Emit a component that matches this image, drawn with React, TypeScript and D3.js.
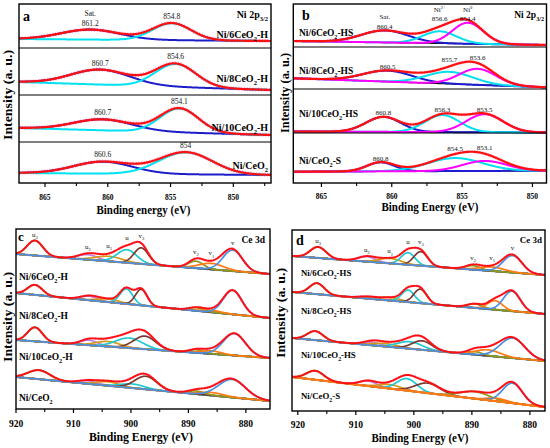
import * as React from 'react';
import * as d3 from 'd3';

const FONT = '"Liberation Serif", "DejaVu Serif", serif';

// ---------- panel a : Ni 2p3/2 (H series) ----------
const niA_names = ['Ni/6CeO_2-H', 'Ni/8CeO_2-H', 'Ni/10CeO_2-H', 'Ni/CeO_2'];
const niA_base = [[144, 142], [101, 93], [55, 48], [10, 8]];
// [centre eV, height, fwhm eV]
const niA_sat = [[861.4, 10, 5.5], [860.6, 15, 5.5], [860.4, 11, 5.5], [860.4, 12, 5.5]];
const niA_main = [[854.9, 17, 3.6], [854.6, 23, 3.8], [854.3, 24, 3.6], [853.8, 22, 5.0]];
const niA_satText = ['861.2', '860.7', '860.7', '860.6'];
const niA_mainText = ['854.8', '854.6', '854.1', '854'];

// ---------- panel b : Ni 2p3/2 (HS series) ----------
const niB_names = ['Ni/6CeO_2-HS', 'Ni/8CeO_2-HS', 'Ni/10CeO_2-HS', 'Ni/CeO_2-S'];
const niB_base = [[142, 138], [104.7, 95.7], [51.5, 50.5], [11.3, 12.3]];
const niB_sat = [[860.5, 12, 3.9], [860.3, 11, 4.1], [860.6, 15, 2.9], [860.8, 9, 2.3]];
const niB_ni2 = [[856.6, 12, 2.8], [855.9, 12, 3.9], [856.4, 17, 2.9], [855.5, 13, 4.6]];
const niB_ni0 = [[854.6, 21, 2.6], [853.9, 16, 3.1], [853.4, 18, 3.1], [853.4, 10, 3.7]];
const niB_satText = ['860.4', '860.5', '860.8', '860.8'];
const niB_ni2Text = ['856.6', '855.7', '856.3', '854.5'];
const niB_ni0Text = ['854.4', '853.6', '853.5', '853.1'];

// ---------- panels c, d : Ce 3d ----------
const ceLabels = ['u_3', 'u_2', 'u_1', 'u', 'v_3', 'v_2', 'v_1', 'v'];
const ceColors = ['#3a9e3a', '#c17fe6', '#d39a1c', '#1fc9d2', '#7a3a33', '#8c9b1e', '#ff7a12', '#4b8fe0'];

const ceC_names = ['Ni/6CeO_2-H', 'Ni/8CeO_2-H', 'Ni/10CeO_2-H', 'Ni/CeO_2'];
const ceC_base = [[155, 135], [116, 91], [69, 51], [32, 8]];
const ceC_6H = [[916.7, 15, 3.2], [907.5, 5, 4], [903.8, 5, 5.5], [900.7, 13, 4.0], [898.2, 16, 3.0], [888.7, 7, 3], [886.0, 6, 5], [882.3, 21, 4]];
const ceC_8H = [[916.7, 10, 3], [907.3, 4, 3.5], [904.0, 3, 4.5], [900.8, 15, 2.6], [898.2, 16, 2.4], [888.6, 3, 3], [886.0, 2, 4], [882.3, 24, 3.8]];
const ceC_10H = [[916.7, 14, 3.0], [907.3, 5, 3.5], [904.0, 5, 5], [900.3, 10, 5.5], [897.6, 13, 4.5], [888.6, 3, 3], [886.0, 3, 4], [882.0, 22, 4.5]];
const ceC_0 = [[916.0, 9, 4.5], [907.5, 3, 4], [904.0, 4, 4.5], [899.7, 4, 5], [897.4, 13, 4.5], [888.6, 3, 3.5], [886.0, 3, 5], [882.4, 18, 5.5]];

const ceD_names = ['Ni/6CeO_2-HS', 'Ni/8CeO_2-HS', 'Ni/10CeO_2-HS', 'Ni/CeO_2-S'];
const ceD_base = [[155, 136], [119, 97], [73, 50], [34, 4]];
const ceD_6HS = [[916.5, 11, 3.2], [908.1, 5, 3.5], [904.1, 5, 4.5], [901.0, 12, 2.8], [898.8, 14, 2.8], [889.8, 4, 3], [886.5, 4, 5], [883.0, 17, 3.8]];
const ceD_8HS = [[916.7, 11, 3], [907.9, 2, 3.5], [904.0, 3, 4], [901.0, 12, 2.6], [898.9, 14, 2.6], [889.5, 4, 3], [886.0, 9, 3], [883.1, 20, 3.4]];
const ceD_10HS = [[917.0, 9, 3.2], [907.2, 3, 3.5], [905.0, 3, 5], [900.7, 7, 5], [898.6, 9, 4], [889.5, 3, 3], [887.2, 6, 5], [883.0, 20, 5]];
const ceD_0S = [[917.0, 9, 3.5], [907.9, 5, 3.5], [904.1, 4, 4.5], [901.2, 12, 4], [897.6, 10, 5], [889.5, 7, 6], [885.7, 3, 4], [883.0, 20, 4]];

const niTicks = [865, 860, 855, 850];
const niMinor = [862.5, 857.5, 852.5, 847.5];
const ceTicks = [920, 910, 900, 890, 880];
const ceMinor = [915, 905, 895, 885, 875];

// fitted component shape
const gauss = (x, p) => {
  const s = p[2] / 2.3548;
  return p[1] * Math.exp(-((x - p[0]) ** 2) / (2 * s * s));
};

function rich(text, size) {
  if (!/[_^]/.test(text)) return text;
  const segs = [];
  const re = /([_^])\{([^}]*)\}|([_^])(.)/g;
  let last = 0;
  let m;
  while ((m = re.exec(text))) {
    if (m.index > last) segs.push({ t: text.slice(last, m.index), k: 'n' });
    const mark = m[1] || m[3];
    segs.push({ t: m[2] !== undefined ? m[2] : m[4], k: mark === '_' ? 'sub' : 'sup' });
    last = re.lastIndex;
  }
  if (last < text.length) segs.push({ t: text.slice(last), k: 'n' });
  let shift = 0;
  return segs.map((s, i) => {
    const target = s.k === 'sub' ? size * 0.3 : s.k === 'sup' ? -size * 0.4 : 0;
    const dy = target - shift;
    shift = target;
    return (
      <tspan key={i} dy={dy || undefined} fontSize={s.k === 'n' ? undefined : size * 0.65}>
        {s.t}
      </tspan>
    );
  });
}

function Txt({ x, y, size, text, anchor = 'start', weight = 'bold', sx = 1, rotate = 0, len = undefined, fill = '#000' }) {
  let tf = `translate(${x},${y})`;
  if (rotate) tf += ` rotate(${rotate})`;
  if (sx !== 1) tf += ` scale(${sx},1)`;
  return (
    <text transform={tf} fontSize={size} fontWeight={weight} textAnchor={anchor} fill={fill}
      style={{ fontFamily: FONT }}
      textLength={len} lengthAdjust={len ? 'spacingAndGlyphs' : undefined}>
      {rich(text, size)}
    </text>
  );
}

const cfgA = {
  id: 'a', x0: 19, x1: 271, top: 4, bottom: 183, dom: [867.07, 847.0], seps: [48, 95, 142],
  ticks: niTicks, minor: niMinor, tickSize: 7.5, tickY: 199.5,
  letter: { x: 23, y: 21, size: 14 }, title: { text: 'Ni 2p_{3/2}', x: 268, y: 18, size: 10 },
  xTitle: { text: 'Binding energy (eV)', x: 143.5, y: 214, size: 11.5, len: 94 },
  yTitle: { x: 12, y: 95, size: 13.5, len: 90 },
  names: { x: 268, y: [38, 82, 131, 169], size: 10, anchor: 'end' },
  tag: { size: 7.5, gap: 4 },
  lineW: 2, dataColor: '#f39bd2', dataW: 4,
};
const cfgB = {
  id: 'b', x0: 293.3, x1: 546.5, top: 4, bottom: 183, dom: [867.0, 849.0], seps: [47, 89, 133],
  ticks: niTicks, minor: niMinor, tickSize: 7.5, tickY: 199,
  letter: { x: 302, y: 20, size: 14 }, title: { text: 'Ni 2p_{3/2}', x: 544, y: 18, size: 9.5 },
  xTitle: { text: 'Binding Energy (eV)', x: 430, y: 210.5, size: 11.5, len: 97 },
  yTitle: { x: 289, y: 93, size: 13, len: 80 },
  names: { x: 299, y: [36, 74, 117, 164], size: 9.5, anchor: 'start' },
  tag: { size: 7, gap: 1.5 },
  lineW: 2, dataColor: '#f7b3dc', dataW: 3.5, baseColor: '#111',
};
const cfgC = {
  id: 'c', x0: 16, x1: 270, top: 229, bottom: 409, dom: [920, 875.8], seps: [],
  ticks: ceTicks, minor: ceMinor, tickSize: 9.5, tickY: 427,
  letter: { x: 18, y: 241, size: 13 }, title: { text: 'Ce 3d', x: 265, y: 243, size: 9.5 },
  xTitle: { text: 'Binding Energy (eV)', x: 141, y: 441, size: 12, len: 104 },
  yTitle: { x: 12, y: 317, size: 13.5, len: 90 },
  names: { x: 19, y: [280, 319, 360, 401], size: 9.5, anchor: 'start' },
  tag: { size: 7, gap: 4 },
  lineW: 1.7, dataColor: '#f08ccf', dataW: 2.6, baseColor: '#6a8fd6',
};
const cfgD = {
  id: 'd', x0: 292, x1: 545, top: 230, bottom: 411, dom: [921, 877.4], seps: [],
  ticks: ceTicks, minor: ceMinor, tickSize: 9.5, tickY: 428,
  letter: { x: 296, y: 245, size: 14 }, title: { text: 'Ce 3d', x: 542, y: 243, size: 9 },
  xTitle: { text: 'Binding Energy (eV)', x: 420, y: 442, size: 11.5, len: 97 },
  yTitle: { x: 285, y: 313, size: 13.5, len: 90 },
  names: { x: 301, y: [276, 314, 358, 399], size: 8.8, anchor: 'start' },
  tag: { size: 7, gap: 4 },
  lineW: 1.7, dataColor: '#f08ccf', dataW: 2.6, baseColor: '#6a8fd6',
};

const specA = niA_names.map((name, i) => ({
  name, base: niA_base[i],
  comps: [{ p: niA_sat[i], color: '#1c1cc8' }, { p: niA_main[i], color: '#00e2f2' }],
  tags: [
    { p: niA_sat[i], lines: i === 0 ? ['Sat.', niA_satText[i]] : [niA_satText[i]] },
    { p: niA_main[i], lines: [niA_mainText[i]] },
  ],
}));

const specB = niB_names.map((name, i) => ({
  name, base: niB_base[i],
  comps: [
    { p: niB_sat[i], color: '#1c1cd0' },
    { p: niB_ni2[i], color: '#00e0ee' },
    { p: niB_ni0[i], color: '#ff00ff' },
  ],
  tags: [
    { p: niB_sat[i], lines: i === 0 ? ['Sat.', niB_satText[i]] : [niB_satText[i]] },
    { p: niB_ni2[i], lines: i === 0 ? ['Ni^{2+}', niB_ni2Text[i]] : [niB_ni2Text[i]] },
    { p: niB_ni0[i], lines: i === 0 ? ['Ni^0', niB_ni0Text[i]] : [niB_ni0Text[i]] },
  ],
}));

const ceSpec = (names, bases, peaks) => names.map((name, i) => ({
  name, base: bases[i],
  comps: peaks[i].map((p, k) => ({ p, color: ceColors[k] })),
  tags: i === 0 ? peaks[i].map((p, k) => ({ p, lines: [ceLabels[k]] })) : [],
}));
const specC = ceSpec(ceC_names, ceC_base, [ceC_6H, ceC_8H, ceC_10H, ceC_0]);
const specD = ceSpec(ceD_names, ceD_base, [ceD_6HS, ceD_8HS, ceD_10HS, ceD_0S]);
specD[3].baseColor = '#ff7a12';

function Panel({ cfg, specs }) {
  const x = d3.scaleLinear().domain(cfg.dom).range([cfg.x0, cfg.x1]);
  const y = d3.scaleLinear().domain([0, cfg.bottom - cfg.top]).range([cfg.bottom, cfg.top]);
  const grid = d3.range(0, 601).map(i => cfg.dom[0] + ((cfg.dom[1] - cfg.dom[0]) * i) / 600);
  const line = d3.line().x(d => x(d[0])).y(d => y(d[1]));
  const lo = Math.min(cfg.dom[0], cfg.dom[1]);
  const hi = Math.max(cfg.dom[0], cfg.dom[1]);
  const inDom = v => v >= lo - 0.01 && v <= hi + 0.01;
  const baseFn = s => v => s.base[0] + ((s.base[1] - s.base[0]) * (v - cfg.dom[0])) / (cfg.dom[1] - cfg.dom[0]);

  return (
    <g>
      <defs>
        <clipPath id={`clip-${cfg.id}`}>
          <rect x={cfg.x0} y={cfg.top} width={cfg.x1 - cfg.x0} height={cfg.bottom - cfg.top} />
        </clipPath>
      </defs>
      <g clipPath={`url(#clip-${cfg.id})`} fill="none" strokeLinejoin="round">
        {specs.map((s, si) => {
          const b = baseFn(s);
          const env = grid.map(v => [v, b(v) + d3.sum(s.comps, c => gauss(v, c.p))]);
          const baseLine = <path d={line(grid.map(v => [v, b(v)]))} stroke={s.baseColor || cfg.baseColor} strokeWidth={cfg.baseColor === '#111' ? 1.4 : 2.2} />;
          return (
            <g key={si}>
              {cfg.baseColor && !s.baseColor && baseLine}
              <path d={line(env)} stroke={cfg.dataColor} strokeWidth={cfg.dataW} strokeDasharray="1.2 1.6" opacity={0.85} />
              {s.comps.map((c, ci) => (
                <path key={ci} d={line(grid.map(v => [v, b(v) + gauss(v, c.p)]))} stroke={c.color} strokeWidth={cfg.lineW} />
              ))}
              {s.baseColor && baseLine}
              <path d={line(env)} stroke="#ff1010" strokeWidth={cfg.lineW + 0.2} />
            </g>
          );
        })}
      </g>

      {/* peak annotations */}
      {specs.map((s, si) => {
        const b = baseFn(s);
        const envAt = v => b(v) + d3.sum(s.comps, c => gauss(v, c.p));
        return s.tags.map((t, ti) => {
          const near = grid.filter(v => Math.abs(v - t.p[0]) < 0.7);
          const top = d3.max(near, envAt);
          const yy = Math.max(y(top) - cfg.tag.gap, cfg.top + 8 + (t.lines.length - 1) * 9);
          return t.lines.map((ln, li) => (
            <Txt key={`${si}-${ti}-${li}`} x={x(t.p[0])} y={yy - (t.lines.length - 1 - li) * 9.5}
              size={cfg.tag.size} text={ln} anchor="middle" weight="normal" fill="#111" />
          ));
        });
      })}

      {/* frame */}
      <rect x={cfg.x0} y={cfg.top} width={cfg.x1 - cfg.x0} height={cfg.bottom - cfg.top} fill="none" stroke="#000" strokeWidth={1.4} />
      {cfg.seps.map(v => (
        <line key={v} x1={cfg.x0} x2={cfg.x1} y1={v} y2={v} stroke="#000" strokeWidth={1.1} />
      ))}

      {/* bottom axis */}
      {cfg.ticks.filter(inDom).map(v => (
        <g key={v}>
          <line x1={x(v)} x2={x(v)} y1={cfg.bottom} y2={cfg.bottom + 4} stroke="#000" strokeWidth={1.2} />
          <Txt x={x(v)} y={cfg.tickY} size={cfg.tickSize} text={String(v)} anchor="middle" />
        </g>
      ))}
      {cfg.minor.filter(inDom).map(v => (
        <line key={v} x1={x(v)} x2={x(v)} y1={cfg.bottom} y2={cfg.bottom + 3} stroke="#000" strokeWidth={1.1} />
      ))}
      <Txt x={cfg.xTitle.x} y={cfg.xTitle.y} size={cfg.xTitle.size} text={cfg.xTitle.text} anchor="middle" len={cfg.xTitle.len} />
      <Txt x={cfg.yTitle.x} y={cfg.yTitle.y} size={cfg.yTitle.size} text="Intensity (a. u.)" anchor="middle" rotate={-90} len={cfg.yTitle.len} />

      {/* labels */}
      <Txt x={cfg.letter.x} y={cfg.letter.y} size={cfg.letter.size} text={cfg.id} />
      <Txt x={cfg.title.x} y={cfg.title.y} size={cfg.title.size} text={cfg.title.text} anchor="end" />
      {specs.map((s, si) => (
        <Txt key={si} x={cfg.names.x} y={cfg.names.y[si]} size={cfg.names.size} text={s.name} anchor={cfg.names.anchor} />
      ))}
    </g>
  );
}

export default function App() {
  return (
    <svg width={550} height={448} viewBox="0 0 550 448"
      style={{ position: 'absolute', left: 0, top: 0, background: '#fff', fontFamily: FONT }}>
      <rect width={550} height={448} fill="#fff" />
      <Panel cfg={cfgA} specs={specA} />
      <Panel cfg={cfgB} specs={specB} />
      <Panel cfg={cfgC} specs={specC} />
      <Panel cfg={cfgD} specs={specD} />
    </svg>
  );
}
